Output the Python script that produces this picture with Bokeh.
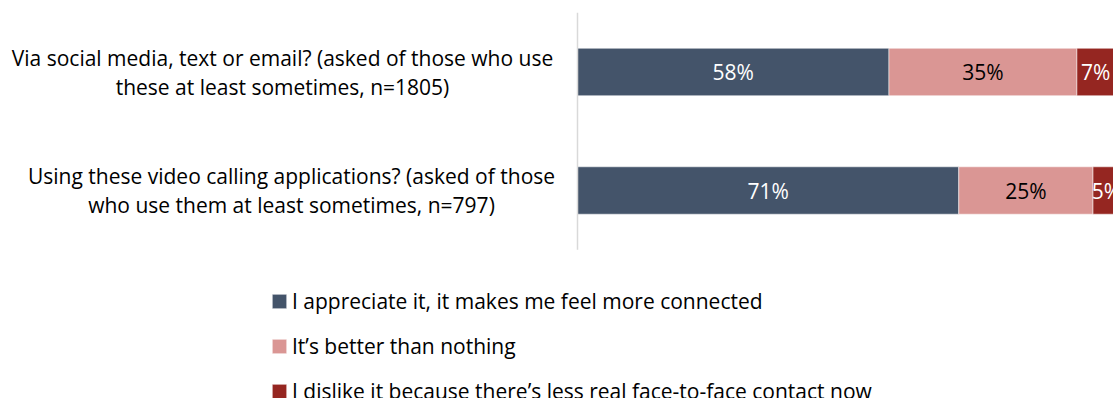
from bokeh.plotting import figure
from bokeh.models import ColumnDataSource, Range1d, Legend, LegendItem
from bokeh.core.properties import value
from bokeh.embed import file_html
from bokeh.resources import INLINE

# ---- data ----
categories = [
    "Via social media, text or email? (asked of those who use these at least sometimes, n=1805)",
    "Using these video calling applications? (asked of those who use them at least sometimes, n=797)",
]
category_lines = [
    ["Via social media, text or email? (asked of those who use", "these at least sometimes, n=1805)"],
    ["Using these video calling applications? (asked of those", "who use them at least sometimes, n=797)"],
]
series_names = [
    "I appreciate it, it makes me feel more connected",
    "It\u2019s better than nothing",
    "I dislike it because there\u2019s less real face-to-face contact now",
]
appreciate = [58, 71]
better = [35, 25]
dislike = [7, 5]

# ---- styles ----
colors = ["#44546A", "#DA9694", "#952621"]
label_colors = ["white", "black", "white"]
FONT = "Open Sans"
FS = "21px"

W, H = 1113, 398
PX_PER_UNIT = 5.37
ZERO_PX = 577
x_start = -ZERO_PX / PX_PER_UNIT
x_end = x_start + W / PX_PER_UNIT
ROW_PX = 118.5
TOP_CENTER_PX = 71.5
y_end = -TOP_CENTER_PX / ROW_PX
y_start = y_end + H / ROW_PX

p = figure(width=W, height=H, output_backend="svg", toolbar_location=None,
           x_range=Range1d(x_start, x_end), y_range=Range1d(y_start, y_end),
           min_border=0, min_border_left=0, min_border_right=0,
           min_border_top=0, min_border_bottom=0)
p.xaxis.visible = False
p.yaxis.visible = False
p.xgrid.visible = False
p.ygrid.visible = False
p.outline_line_color = None

ys = list(range(len(categories)))
series = [appreciate, better, dislike]
keys = ["a", "b", "c"]
src = ColumnDataSource(dict(y=ys, a=appreciate, b=better, c=dislike))

renderers = p.hbar_stack(keys, y="y", height=0.4, color=colors, source=src,
                         line_color="white", line_width=0.5)

# axis line
p.segment(x0=[0], x1=[0], y0=[-0.5], y1=[len(categories) - 0.5],
          line_color="#D9D9D9", line_width=1.5)

# data labels
for si, vals in enumerate(series):
    xs, ty, tt = [], [], []
    for ci, v in enumerate(vals):
        left = sum(series[k][ci] for k in range(si))
        xs.append(left + v / 2)
        ty.append(ci)
        tt.append(f"{v}%")
    p.text(x=xs, y=ty, text=tt, text_align="center", text_baseline="middle",
           text_font=value(FONT), text_font_size=FS, text_color=label_colors[si])

# category labels (two centred lines each)
label_centers = [(282 - ZERO_PX) / PX_PER_UNIT, (291 - ZERO_PX) / PX_PER_UNIT]
line_off = 14.5 / ROW_PX
for ci, lines in enumerate(category_lines):
    n = len(lines)
    lx = [label_centers[ci]] * n
    ly = [ci + (i - (n - 1) / 2) * 2 * line_off for i in range(n)]
    p.text(x=lx, y=ly, text=lines, text_align="center", text_baseline="middle",
           text_font=value(FONT), text_font_size=FS, text_color="black")

legend = Legend(items=[LegendItem(label=series_names[i], renderers=[renderers[i]])
                       for i in range(len(series_names))],
                location=(270, -6.5), orientation="vertical",
                glyph_width=18, glyph_height=18, label_standoff=4,
                label_height=24, spacing=17, padding=0, margin=0,
                border_line_color=None, background_fill_alpha=0,
                label_text_font=FONT, label_text_font_size=FS,
                label_text_color="black")
p.add_layout(legend)

open("out.html", "w").write(file_html(p, INLINE))
